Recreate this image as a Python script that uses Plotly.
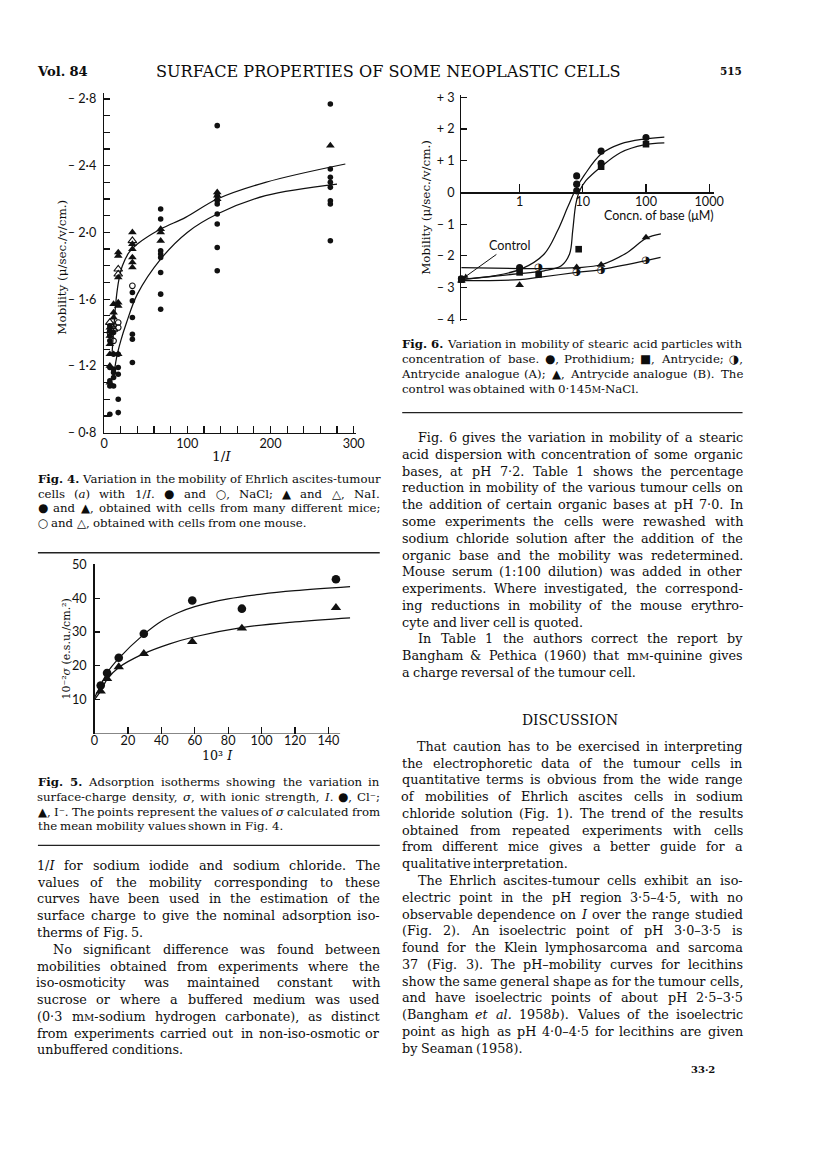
import re, struct, glob, os
import plotly.graph_objects as go

W, H = 816, 1155
# the photographed page comes out very slightly shrunk about its centre; compensate
SC = 0.986
OX, OY = 5.0, 7.5
K = 1 / SC
def px(x): return ((x - OX) / SC) / W
def py(y): return 1 - ((y - OY) / SC) / H

# ====================== DATA ======================
# ---- Fig. 4 : mobility (u/sec./v/cm.) vs 1/I ----
f4_nacl_many_x = [6.9]*8 + [11.4]*6 + [17]*5 + [34]*6 + [68]*8 + [136]*8 + [272]*8
f4_nacl_many_y = [-1.44, -1.41, -1.38, -1.35, -1.19, -1.11, -1.08, -0.91,
                  -1.40, -1.27, -1.18, -1.16, -1.13, -1.08,
                  -1.27, -1.19, -1.15, -1.00, -0.92,
                  -1.64, -1.59, -1.49, -1.39, -1.36, -1.22,
                  -2.14, -2.08, -1.89, -1.87, -1.85, -1.76, -1.63, -1.54,
                  -2.64, -2.22, -2.19, -2.17, -2.11, -2.05, -1.91, -1.77,
                  -2.77, -2.38, -2.33, -2.30, -2.27, -2.19, -2.17, -1.95]
f4_nacl_one_x = [6.9, 11.4, 11.4, 17, 17, 34]
f4_nacl_one_y = [-1.40, -1.35, -1.44, -1.46, -1.43, -1.68]
f4_nai_many_x = [6.9]*6 + [11.4]*4 + [17]*6 + [34]*6 + [68]*3 + [136]*3 + [272]
f4_nai_many_y = [-1.43, -1.38, -1.33, -1.27, -1.20, -1.10,
                 -1.57, -1.52, -1.49, -1.27,
                 -1.88, -1.86, -1.73, -1.58, -1.56, -1.27,
                 -2.00, -1.93, -1.90, -1.85, -1.82, -1.79,
                 -2.02, -2.00, -1.95,
                 -2.24, -2.22, -2.20,
                 -2.52]
f4_nai_one_x = [6.9, 11.4, 17, 17, 34]
f4_nai_one_y = [-1.46, -1.42, -1.78, -1.75, -1.95]
f4_nai_curve_x = [9.5, 12, 14.5, 17.5, 22, 30, 40, 68, 98, 136, 194, 290]
f4_nai_curve_y = [-1.27, -1.45, -1.60, -1.71, -1.80, -1.88, -1.93, -2.02, -2.09, -2.20, -2.30, -2.41]
f4_nacl_curve_x = [11, 15, 20, 27, 40, 68, 100, 136, 194, 280]
f4_nacl_curve_y = [-1.12, -1.25, -1.35, -1.46, -1.63, -1.84, -2.00, -2.11, -2.22, -2.29]
f4_xticks = list(range(0, 301, 20))
f4_xlabels = ['0', '', '', '', '', '100', '', '', '', '', '200', '', '', '', '', '300']
f4_yticks = [round(-0.8 - 0.1 * i, 1) for i in range(21)]

# ---- Fig. 5 : 10^-2 sigma vs 10^3 I ----
f5_I = [3.7, 7.5, 14.5, 29.5, 58.5, 88.2, 144.5]
f5_cl = [14.2, 17.9, 22.4, 29.5, 39.3, 36.9, 45.6]
f5_i = [12.5, 16.2, 19.7, 23.6, 27.1, 31.1, 37.2]
f5_cl_curve_x = [0, 3.7, 7.5, 14.5, 29.5, 40, 50, 60, 80, 100, 120, 153]
f5_cl_curve_y = [10.6, 14.2, 17.9, 22.2, 29.3, 33.2, 35.7, 37.5, 39.8, 41.2, 42.2, 43.4]
f5_i_curve_x = [0, 3.7, 7.5, 14.5, 29.5, 45, 60, 88, 120, 153]
f5_i_curve_y = [10.0, 12.6, 16.0, 19.5, 23.6, 26.5, 28.6, 31.3, 33.0, 34.2]
f5_xticks = [0, 20, 40, 60, 80, 100, 120, 140]
f5_yticks = [10, 20, 30, 40, 50]

# ---- Fig. 6 : mobility vs concn. of base (uM), log scale ----
f6_proth_x = [0.12, 1, 8, 8, 8, 19.5, 19.5, 100]
f6_proth_y = [-2.72, -2.37, 0.52, 0.26, 0.05, 1.30, 0.92, 1.73]
f6_antry_x = [0.12, 1, 2, 8.6, 19.5, 100]
f6_antry_y = [-2.75, -2.52, -2.58, -1.79, 0.81, 1.52]
f6_anA_x = [0.11, 2, 8, 19.5, 100]
f6_anA_y = [-2.37, -2.35, -2.52, -2.46, -2.13]
f6_anB_x = [0.12, 1, 8, 19.5, 100]
f6_anB_y = [-2.78, -2.92, -2.36, -2.28, -1.42]
f6_proth_curve_x = [0.12, 0.41, 1.07, 2.45, 3.98, 5.75, 7.76, 10.7, 19.5, 39.8, 93, 195]
f6_proth_curve_y = [-2.73, -2.62, -2.41, -1.94, -1.21, -0.47, 0.11, 0.56, 1.21, 1.53, 1.68, 1.74]
f6_antry_curve_x = [0.12, 1.07, 2.45, 4.57, 6.17, 6.92, 7.76, 8.91, 11.2, 19.5, 39.8, 93, 195]
f6_antry_curve_y = [-2.75, -2.55, -2.47, -2.31, -1.94, -1.21, -0.37, 0.05, 0.37, 0.81, 1.26, 1.50, 1.56]
f6_anB_curve_x = [0.11, 1, 2, 8, 19.5, 50, 100, 172]
f6_anB_curve_y = [-2.37, -2.40, -2.40, -2.37, -2.28, -1.90, -1.45, -1.31]
f6_anA_curve_x = [0.12, 1, 2, 8, 19.5, 100, 170]
f6_anA_curve_y = [-2.78, -2.75, -2.68, -2.52, -2.43, -2.15, -2.05]
f6_xticks = [1, 10, 100, 1000]
f6_yticks = [3, 2, 1, 0, -1, -2, -3, -4]

# ====================== FONT METRICS (for justified text) ======================
class Metrics:
    def __init__(self, path):
        d = open(path, 'rb').read()
        n = struct.unpack('>H', d[4:6])[0]
        t = {}
        for i in range(n):
            o = 12 + 16 * i
            t[d[o:o + 4].decode('latin1')] = struct.unpack('>I', d[o + 8:o + 12])[0]
        self.upem = struct.unpack('>H', d[t['head'] + 18:t['head'] + 20])[0]
        nhm = struct.unpack('>H', d[t['hhea'] + 34:t['hhea'] + 36])[0]
        hm = t['hmtx']
        self.adv = struct.unpack('>' + 'Hh' * nhm, d[hm:hm + 4 * nhm])[0::2]
        cm = t['cmap']
        ns = struct.unpack('>H', d[cm + 2:cm + 4])[0]
        sub = None
        for i in range(ns):
            pid, eid, so = struct.unpack('>HHI', d[cm + 4 + 8 * i:cm + 12 + 8 * i])
            fmt = struct.unpack('>H', d[cm + so:cm + so + 2])[0]
            if fmt == 4 and (pid == 3 or (pid == 0 and sub is None)):
                sub = cm + so
        s = sub
        segx2 = struct.unpack('>H', d[s + 6:s + 8])[0]
        seg = segx2 // 2
        self.ends = struct.unpack('>%dH' % seg, d[s + 14:s + 14 + segx2])
        self.starts = struct.unpack('>%dH' % seg, d[s + 16 + segx2:s + 16 + 2 * segx2])
        self.deltas = struct.unpack('>%dh' % seg, d[s + 16 + 2 * segx2:s + 16 + 3 * segx2])
        self.rooff = s + 16 + 3 * segx2
        self.ros = struct.unpack('>%dH' % seg, d[self.rooff:self.rooff + segx2])
        self.d = d
        self.cache = {}

    def gid(self, c):
        for i, e in enumerate(self.ends):
            if e >= c:
                if self.starts[i] > c:
                    return 0
                if self.ros[i] == 0:
                    return (c + self.deltas[i]) & 0xFFFF
                a = self.rooff + 2 * i + self.ros[i] + 2 * (c - self.starts[i])
                g = struct.unpack('>H', self.d[a:a + 2])[0]
                return (g + self.deltas[i]) & 0xFFFF if g else 0
        return 0

    def w(self, ch):
        if ch not in self.cache:
            g = self.gid(ord(ch))
            self.cache[ch] = None if g == 0 else self.adv[min(g, len(self.adv) - 1)] / self.upem
        return self.cache[ch]

def _load(name):
    for root in ['/usr/share/fonts', '/usr/local/share/fonts', os.path.expanduser('~/.fonts'),
                 os.path.expanduser('~/.local/share/fonts')]:
        try:
            hits = glob.glob(os.path.join(root, '**', name), recursive=True)
        except Exception:
            hits = []
        if hits:
            try:
                return Metrics(hits[0])
            except Exception:
                return None
    return None

M_REG = _load('DejaVuSerif.ttf')
M_BOLD = _load('DejaVuSerif-Bold.ttf') or M_REG
M_SANS = _load('DejaVuSans.ttf')

def em(text):
    bold = '<b>' in text
    s = re.sub(r'<[^>]+>', '', text).replace('&amp;', '&')
    tot = 0.0
    for ch in s.replace('{M}', 'M'):
        v = None
        for m in ((M_BOLD if bold else M_REG), M_SANS):
            if m is not None:
                v = m.w(ch)
                if v is not None:
                    break
        if v is None:
            v = 0.318 if ch == ' ' else 0.6
        tot += v
    if '{M}' in text:
        tot -= 0.22 * 0.8
    return tot

SPACE = 0.318
SERIF = 'DejaVu Serif'
SANS = 'Lato'
INK = '#0d0d0d'
anns = []

def ann(text, x, y, size, fam=SERIF, xanchor='center', angle=0, color=INK):
    text = text.replace('{M}', "<span style='font-size:%.1fpx'>M</span>" % (size * K * 0.78))
    anns.append(dict(x=px(x), y=py(y), xref='paper', yref='paper', text=text, showarrow=False,
                     xanchor=xanchor, yanchor='middle', textangle=angle, borderpad=0,
                     font=dict(family=fam, size=size * K, color=color)))

def fit(text, target):
    return target / em(text)

def text_block(lines, x0, x1, y0, dy, base, indent=15.5):
    size = base
    for t, mode in lines:
        if mode in ('j', 'ij'):
            ws = t.split()
            avail = x1 - x0 - (indent if mode == 'ij' else 0)
            nat = sum(em(w) for w in ws) + 0.2 * (len(ws) - 1)
            size = min(size, avail / nat)
    for k, (t, mode) in enumerate(lines):
        y = y0 + k * dy
        xs = x0 + (indent if mode.startswith('i') else 0)
        ws = t.split()
        wd = [em(w) * size for w in ws]
        if mode in ('j', 'ij') and len(ws) > 1:
            gap = (x1 - xs - sum(wd)) / (len(ws) - 1)
        else:
            gap = SPACE * size
        cur = xs
        for w, d in zip(ws, wd):
            ann(w, cur + d / 2, y, size)
            cur += d + gap

# ====================== FIGURE ======================
fig = go.Figure()
BLK = '#111111'

def sc(x, y, xa, ya, symbol, size, mode='markers', lw=0, fill=BLK):
    if mode == 'lines':
        fig.add_trace(go.Scatter(x=x, y=y, xaxis=xa, yaxis=ya, mode='lines',
                                 line=dict(color=BLK, width=1.25, shape='spline', smoothing=1.0),
                                 hoverinfo='skip', showlegend=False))
    else:
        fig.add_trace(go.Scatter(x=x, y=y, xaxis=xa, yaxis=ya, mode='markers', cliponaxis=False,
                                 marker=dict(symbol=symbol, size=size * K, color=fill,
                                             line=dict(color=BLK, width=lw)),
                                 hoverinfo='skip', showlegend=False))

# Fig. 4
sc(f4_nai_curve_x, f4_nai_curve_y, 'x', 'y', None, None, mode='lines')
sc(f4_nacl_curve_x, f4_nacl_curve_y, 'x', 'y', None, None, mode='lines')
sc(f4_nacl_many_x, f4_nacl_many_y, 'x', 'y', 'circle', 5.5)
sc(f4_nai_many_x, f4_nai_many_y, 'x', 'y', 'triangle-up', 7.5)
sc(f4_nacl_one_x, f4_nacl_one_y, 'x', 'y', 'circle-open', 5.5, lw=1.1)
sc(f4_nai_one_x, f4_nai_one_y, 'x', 'y', 'triangle-up-open', 7.5, lw=1.1)

# Fig. 5
sc(f5_cl_curve_x, f5_cl_curve_y, 'x2', 'y2', None, None, mode='lines')
sc(f5_i_curve_x, f5_i_curve_y, 'x2', 'y2', None, None, mode='lines')
sc(f5_I, f5_cl, 'x2', 'y2', 'circle', 8.5)
sc(f5_I, f5_i, 'x2', 'y2', 'triangle-up', 9)

# Fig. 6
sc(f6_proth_curve_x, f6_proth_curve_y, 'x3', 'y3', None, None, mode='lines')
sc(f6_antry_curve_x, f6_antry_curve_y, 'x3', 'y3', None, None, mode='lines')
sc(f6_anB_curve_x, f6_anB_curve_y, 'x3', 'y3', None, None, mode='lines')
sc(f6_anA_curve_x, f6_anA_curve_y, 'x3', 'y3', None, None, mode='lines')
sc(f6_proth_x, f6_proth_y, 'x3', 'y3', 'circle', 7)
sc(f6_antry_x, f6_antry_y, 'x3', 'y3', 'square', 6.5)
sc(f6_anB_x, f6_anB_y, 'x3', 'y3', 'triangle-up', 7.5)
fig.add_trace(go.Scatter(x=f6_anA_x, y=f6_anA_y, xaxis='x3', yaxis='y3', mode='text', text=['◑'] * len(f6_anA_x),
                         textposition='middle center', cliponaxis=False,
                         textfont=dict(family='DejaVu Sans', size=10 * K, color=BLK),
                         hoverinfo='skip', showlegend=False))

def dash(v, fmt='%g'):
    if v == 0:
        return '0'
    s = (fmt % abs(v)).replace('.', '·')
    return ('+ ' if v > 0 else '– ') + s

axis_common = dict(showgrid=False, zeroline=False, linecolor=BLK, linewidth=1.3, tickcolor=BLK,
                   tickwidth=1.2, ticks='inside', tickfont=dict(family=SANS, size=12.5 * K, color=BLK),
                   fixedrange=True)

fig.update_layout(
    width=W, height=H, margin=dict(l=0, r=0, t=0, b=0),
    paper_bgcolor='white', plot_bgcolor='rgba(0,0,0,0)', showlegend=False,
    xaxis=dict(axis_common, domain=[px(105.3), px(358)], range=[0, 303.2], anchor='y', showline=True,
               tickmode='array', tickvals=f4_xticks, ticktext=f4_xlabels, ticklen=7, ticklabelstandoff=-1),
    yaxis=dict(axis_common, domain=[py(431.7), py(92)], range=[-0.8, -2.838], anchor='x', showline=True,
               tickmode='array', tickvals=f4_yticks,
               ticktext=[dash(v, '%.1f') if i % 4 == 0 else '' for i, v in enumerate(f4_yticks)],
               ticklen=6, ticklabelstandoff=4),
    xaxis2=dict(axis_common, domain=[px(95.7), px(352)], range=[0, 153.1], anchor='y2', showline=False,
                tickmode='array', tickvals=f5_xticks, ticktext=[str(v) for v in f5_xticks], ticklen=7,
                ticklabelstandoff=-2),
    yaxis2=dict(axis_common, domain=[py(732.3), py(562.6)], range=[0, 50.2], anchor='x2', showline=True,
                tickmode='array', tickvals=f5_yticks, ticktext=[str(v) for v in f5_yticks], ticklen=5,
                ticklabelstandoff=4),
    xaxis3=dict(axis_common, type='log', domain=[px(463.3), px(716.7)], range=[-0.921, 3.081],
                anchor='free', position=py(191.7), showline=True,
                tickmode='array', tickvals=f6_xticks, ticktext=[str(v) for v in f6_xticks], ticklen=8,
                ticklabelstandoff=-3),
    yaxis3=dict(axis_common, domain=[py(320.1), py(94.1)], range=[-4.05, 3.08], anchor='x3', showline=True,
                tickmode='array', tickvals=f6_yticks, ticktext=[dash(v) for v in f6_yticks], ticklen=6,
                ticklabelstandoff=3),
)

shapes = [
    dict(type='line', xref='x2', yref='y2', x0=0, x1=147, y0=0, y1=0, line=dict(color=BLK, width=1.3)),
    dict(type='line', xref='paper', yref='paper', x0=px(39), x1=px(381.5), y0=py(551.7), y1=py(551.7),
         line=dict(color='#222', width=1.4)),
    dict(type='line', xref='paper', yref='paper', x0=px(39), x1=px(381.5), y0=py(844), y1=py(844),
         line=dict(color='#222', width=1.4)),
    dict(type='line', xref='paper', yref='paper', x0=px(404), x1=px(745), y0=py(411.7), y1=py(411.7),
         line=dict(color='#222', width=1.4)),
]
fig.update_layout(shapes=shapes)

# ---------- running head ----------
ann('<b>Vol.</b> <b>84</b>', 36.7, 70.5, fit('<b>Vol. 84</b>', 50.6), xanchor='left')
title = 'SURFACE PROPERTIES OF SOME NEOPLASTIC CELLS'
ann(title, 390, 70.5, fit(title, 460))
ann('<b>515</b>', 721.7, 70.5, fit('<b>515</b>', 21.6), xanchor='left')

# ---------- axis titles ----------
mob = 'Mobility (μ/sec./v/cm.)'
ann(mob, 63.5, 266.5, fit(mob, 133), angle=-90)
ann('1/<i>I</i>', 222.5, 455, 13.5)
s5 = '10⁻²<i>σ</i> (e.s.u./cm.²)'
ann(s5, 67.5, 648, fit(s5, 100), angle=-90)
ann('10³ <i>I</i>', 219, 754, 12.5)
ann(mob, 428.5, 206.5, fit(mob, 133), angle=-90)
ann('Concn. of base (μM)', 661.5, 215, 12.3, fam=SANS)
anns.append(dict(x=-0.896, y=-2.71, xref='x3', yref='y3', text='Control', showarrow=True,
                 ax=46 * K, ay=-33 * K, arrowhead=2, arrowsize=1, arrowwidth=1, arrowcolor=BLK,
                 standoff=0, font=dict(family=SANS, size=12.5 * K, color=BLK)))

# ---------- captions ----------
cap4 = [
    ('<b>Fig.</b> <b>4.</b> Variation in the mobility of Ehrlich ascites-tumour', 'j'),
    ('cells (<i>a</i>) with 1/<i>I</i>. ● and ○, NaCl; ▲ and △, NaI.', 'j'),
    ('● and ▲, obtained with cells from many different mice;', 'j'),
    ('○ and △, obtained with cells from one mouse.', 'l'),
]
text_block(cap4, 39, 381.5, 478.3, 14.5, 11.6)

cap5 = [
    ('<b>Fig.</b> <b>5.</b> Adsorption isotherms showing the variation in', 'j'),
    ('surface-charge density, <i>σ</i>, with ionic strength, <i>I</i>. ●, Cl⁻;', 'j'),
    ('▲, I⁻. The points represent the values of <i>σ</i> calculated from', 'j'),
    ('the mean mobility values shown in Fig. 4.', 'l'),
]
text_block(cap5, 39, 381.5, 780.7, 14.8, 11.6)

cap6 = [
    ('<b>Fig.</b> <b>6.</b> Variation in mobility of stearic acid particles with', 'j'),
    ('concentration of base. ●, Prothidium; ■, Antrycide; ◑,', 'j'),
    ('Antrycide analogue (A); ▲, Antrycide analogue (B). The', 'j'),
    ('control was obtained with 0·145{M}-NaCl.', 'l'),
]
text_block(cap6, 404, 745, 343.3, 15.0, 11.6)

# ---------- body text ----------
left_body = [
    ('1/<i>I</i> for sodium iodide and sodium chloride. The', 'j'),
    ('values of the mobility corresponding to these', 'j'),
    ('curves have been used in the estimation of the', 'j'),
    ('surface charge to give the nominal adsorption iso-', 'j'),
    ('therms of Fig. 5.', 'l'),
    ('No significant difference was found between', 'ij'),
    ('mobilities obtained from experiments where the', 'j'),
    ('iso-osmoticity was maintained constant with', 'j'),
    ('sucrose or where a buffered medium was used', 'j'),
    ('(0·3 m{M}-sodium hydrogen carbonate), as distinct', 'j'),
    ('from experiments carried out in non-iso-osmotic or', 'j'),
    ('unbuffered conditions.', 'l'),
]
text_block(left_body, 38.5, 381.5, 864, 16.76, 12.6)

right_body1 = [
    ('Fig. 6 gives the variation in mobility of a stearic', 'ij'),
    ('acid dispersion with concentration of some organic', 'j'),
    ('bases, at pH 7·2. Table 1 shows the percentage', 'j'),
    ('reduction in mobility of the various tumour cells on', 'j'),
    ('the addition of certain organic bases at pH 7·0. In', 'j'),
    ('some experiments the cells were rewashed with', 'j'),
    ('sodium chloride solution after the addition of the', 'j'),
    ('organic base and the mobility was redetermined.', 'j'),
    ('Mouse serum (1:100 dilution) was added in other', 'j'),
    ('experiments. Where investigated, the correspond-', 'j'),
    ('ing reductions in mobility of the mouse erythro-', 'j'),
    ('cyte and liver cell is quoted.', 'l'),
    ('In Table 1 the authors correct the report by', 'ij'),
    ('Bangham &amp; Pethica (1960) that m{M}-quinine gives', 'j'),
    ('a charge reversal of the tumour cell.', 'l'),
]
text_block(right_body1, 404, 745, 436.7, 16.76, 12.6)

ann('DISCUSSION', 572.5, 718.3, fit('DISCUSSION', 95))

right_body2 = [
    ('That caution has to be exercised in interpreting', 'ij'),
    ('the electrophoretic data of the tumour cells in', 'j'),
    ('quantitative terms is obvious from the wide range', 'j'),
    ('of mobilities of Ehrlich ascites cells in sodium', 'j'),
    ('chloride solution (Fig. 1). The trend of the results', 'j'),
    ('obtained from repeated experiments with cells', 'j'),
    ('from different mice gives a better guide for a', 'j'),
    ('qualitative interpretation.', 'l'),
    ('The Ehrlich ascites-tumour cells exhibit an iso-', 'ij'),
    ('electric point in the pH region 3·5–4·5, with no', 'j'),
    ('observable dependence on <i>I</i> over the range studied', 'j'),
    ('(Fig. 2). An isoelectric point of pH 3·0–3·5 is', 'j'),
    ('found for the Klein lymphosarcoma and sarcoma', 'j'),
    ('37 (Fig. 3). The pH–mobility curves for lecithins', 'j'),
    ('show the same general shape as for the tumour cells,', 'j'),
    ('and have isoelectric points of about pH 2·5–3·5', 'j'),
    ('(Bangham <i>et</i> <i>al.</i> 1958<i>b</i>). Values of the isoelectric', 'j'),
    ('point as high as pH 4·0–4·5 for lecithins are given', 'j'),
    ('by Seaman (1958).', 'l'),
]
text_block(right_body2, 404, 745, 745, 16.76, 12.6)

ann('<b>33·2</b>', 705, 1068.3, fit('<b>33·2</b>', 24))

fig.update_layout(annotations=anns)
fig.write_html('out.html', config={'displayModeBar': False, 'staticPlot': True},
               post_script="document.documentElement.style.margin='0';document.body.style.margin='0';"
                           "document.body.style.padding='0';document.body.style.overflow='hidden';"
                           "document.documentElement.style.overflow='hidden';")
